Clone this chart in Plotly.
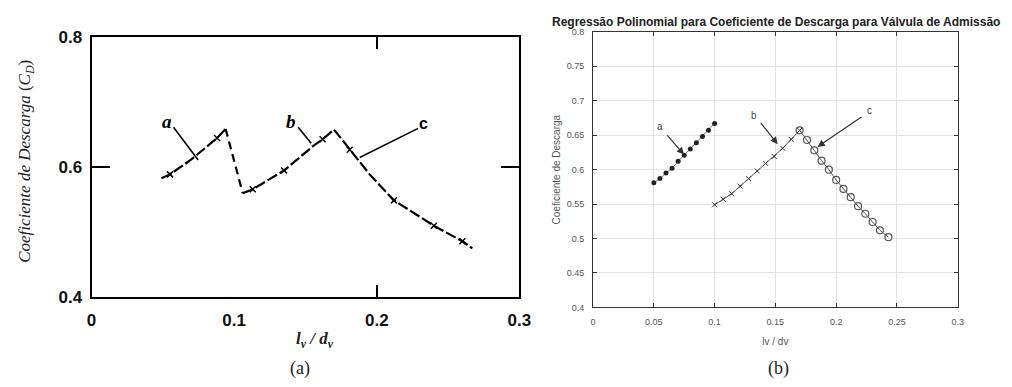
import plotly.graph_objects as go

a_curve_x = [0.049, 0.055, 0.070, 0.088, 0.094]
a_curve_y = [0.583, 0.589, 0.612, 0.645, 0.659]
ab_jump_x = [0.094, 0.106]
ab_jump_y = [0.659, 0.560]
b_curve_x = [0.106, 0.113, 0.135, 0.155, 0.162, 0.170]
b_curve_y = [0.560, 0.566, 0.595, 0.632, 0.643, 0.658]
c_curve_x = [0.170, 0.181, 0.195, 0.212, 0.240, 0.260, 0.267]
c_curve_y = [0.658, 0.627, 0.589, 0.549, 0.510, 0.486, 0.475]
a_marks_x = [0.055, 0.088, 0.113, 0.135, 0.162, 0.181, 0.212, 0.240, 0.260]
a_marks_y = [0.589, 0.645, 0.566, 0.595, 0.643, 0.627, 0.549, 0.510, 0.486]
a_ticks_x = [0, 0.1, 0.2, 0.3]
a_ticks_y = [0.4, 0.6, 0.8]

pa_x = [0.050, 0.055, 0.060, 0.065, 0.070, 0.075, 0.080, 0.085, 0.090, 0.095, 0.100]
pa_y = [0.581, 0.587, 0.595, 0.602, 0.612, 0.621, 0.630, 0.639, 0.648, 0.657, 0.667]
pb_x = [0.100, 0.107, 0.114, 0.121, 0.128, 0.135, 0.142, 0.149, 0.156, 0.163, 0.170]
pb_y = [0.549, 0.557, 0.565, 0.576, 0.587, 0.598, 0.609, 0.619, 0.631, 0.644, 0.657]
pc_x = [0.170, 0.176, 0.182, 0.188, 0.194, 0.200, 0.206, 0.212, 0.218, 0.224, 0.230, 0.236, 0.243]
pc_y = [0.657, 0.643, 0.628, 0.613, 0.600, 0.585, 0.572, 0.560, 0.547, 0.536, 0.524, 0.512, 0.502]
b_ticks_x = [0, 0.05, 0.1, 0.15, 0.2, 0.25, 0.3]
b_ticks_y = [0.4, 0.45, 0.5, 0.55, 0.6, 0.65, 0.7, 0.75, 0.8]

fig = go.Figure()

# Panel (a) traces
for xs, ys, dash in [(a_curve_x, a_curve_y, "11px,3px"), (ab_jump_x, ab_jump_y, "8px,5px"),
                     (b_curve_x, b_curve_y, "11px,3px"), (c_curve_x, c_curve_y, "11px,3px")]:
    fig.add_trace(go.Scatter(x=xs, y=ys, mode="lines", xaxis="x", yaxis="y",
                             line=dict(color="black", width=2.2, dash=dash),
                             showlegend=False, hoverinfo="skip"))
fig.add_trace(go.Scatter(x=a_marks_x, y=a_marks_y, mode="markers", xaxis="x", yaxis="y",
                         marker=dict(symbol="x-thin", size=6, line=dict(color="black", width=1.5)),
                         showlegend=False, hoverinfo="skip"))
# invisible trace so the overlay tick axes of panel (a) are drawn
fig.add_trace(go.Scatter(x=[0.2], y=[0.6], mode="markers", xaxis="x3", yaxis="y3",
                         marker=dict(size=1, opacity=0), showlegend=False, hoverinfo="skip"))

# Panel (b) traces
fig.add_trace(go.Scatter(x=pa_x, y=pa_y, mode="lines+markers", xaxis="x2", yaxis="y2",
                         line=dict(color="#555", width=0.8),
                         marker=dict(symbol="circle", size=5, color="#222"),
                         showlegend=False, hoverinfo="skip"))
fig.add_trace(go.Scatter(x=pb_x, y=pb_y, mode="lines+markers", xaxis="x2", yaxis="y2",
                         line=dict(color="#555", width=1),
                         marker=dict(symbol="x-thin", size=5, line=dict(color="#333", width=1)),
                         showlegend=False, hoverinfo="skip"))
fig.add_trace(go.Scatter(x=pc_x, y=pc_y, mode="lines+markers", xaxis="x2", yaxis="y2",
                         line=dict(color="#555", width=1),
                         marker=dict(symbol="circle-open", size=7, line=dict(color="#444", width=1.2)),
                         showlegend=False, hoverinfo="skip"))

serif = "Liberation Serif"
sans = "Liberation Sans"

fig.update_layout(
    width=1012, height=387,
    margin=dict(l=0, r=0, t=0, b=0),
    paper_bgcolor="white", plot_bgcolor="white",
    xaxis=dict(domain=[0.087, 0.517], range=[0, 0.3], tickvals=a_ticks_x,
               ticktext=["0", "0.1", "0.2", "0.3"], ticks="", showgrid=False, zeroline=False,
               showline=True, linecolor="black", linewidth=2, mirror=True, ticklabelstandoff=6,
               tickfont=dict(family=sans, size=17, color="#111", weight="bold"), anchor="y"),
    yaxis=dict(domain=[0.217, 0.923], range=[0.4, 0.8], tickvals=a_ticks_y,
               ticktext=["0.4", "0.6", "0.8"], ticks="", showgrid=False, zeroline=False,
               showline=True, linecolor="black", linewidth=2, mirror=True, ticklabelstandoff=4,
               tickfont=dict(family=sans, size=17, color="#111", weight="bold"), anchor="x"),
    xaxis3=dict(overlaying="x", anchor="y3", range=[0, 0.3], tickvals=[0.2], ticks="inside",
                ticklen=12, tickwidth=1.5, tickcolor="black", showticklabels=False,
                showgrid=False, zeroline=False, showline=False, mirror="ticks"),
    yaxis3=dict(overlaying="y", anchor="x3", range=[0.4, 0.8], tickvals=[0.6], ticks="inside",
                ticklen=18, tickwidth=1.5, tickcolor="black", showticklabels=False,
                showgrid=False, zeroline=False, showline=False, mirror="ticks"),
    xaxis2=dict(domain=[0.591, 0.9575], range=[0, 0.3], tickvals=b_ticks_x,
                ticktext=["0", "0.05", "0.1", "0.15", "0.2", "0.25", "0.3"],
                ticks="inside", ticklen=4, tickcolor="#333", showgrid=True, gridcolor="#e3e3e3",
                zeroline=False, showline=True, linecolor="#333", linewidth=1, mirror="ticks",
                ticklabelstandoff=6,
                tickfont=dict(family=sans, size=9, color="#555"), anchor="y2",
                title=dict(text="lv / dv", font=dict(family=sans, size=10, color="#555"), standoff=11)),
    yaxis2=dict(domain=[0.189, 0.938], range=[0.4, 0.8], tickvals=b_ticks_y,
                ticktext=["0.4", "0.45", "0.5", "0.55", "0.6", "0.65", "0.7", "0.75", "0.8"],
                ticks="inside", ticklen=4, tickcolor="#333", showgrid=True, gridcolor="#e3e3e3",
                zeroline=False, showline=True, linecolor="#333", linewidth=1, mirror="ticks",
                ticklabelstandoff=6,
                tickfont=dict(family=sans, size=9, color="#555"), anchor="x2",
                title=dict(text="Coeficiente de Descarga", font=dict(family=sans, size=10, color="#555"), standoff=4)),
)

ann = []
# Panel (a) text
ann.append(dict(xref="paper", yref="paper", x=22 / 1012, y=1 - 160 / 387, textangle=-90,
                xanchor="center", yanchor="middle",
                text="<i>Coeficiente de Descarga</i> (<i>C<sub>D</sub></i>)", showarrow=False,
                font=dict(family=serif, size=17, color="#222")))
ann.append(dict(xref="paper", yref="paper", x=315 / 1012, y=1 - 348 / 387,
                xanchor="center", yanchor="middle",
                text="<b><i>l<sub>v</sub> / d<sub>v</sub></i></b>", showarrow=False,
                font=dict(family=serif, size=17, color="#222")))
ann.append(dict(xref="paper", yref="paper", x=300 / 1012, y=1 - 378 / 387, text="(a)",
                xanchor="center", yanchor="middle",
                showarrow=False, font=dict(family=serif, size=18, color="#222")))
# leaders (a)
for lbl, tx, ty, hx, hy in [("a", 0.0527, 0.670, 0.0747, 0.611),
                            ("b", 0.140, 0.670, 0.154, 0.637),
                            ("c", 0.233, 0.667, 0.188, 0.615)]:
    ann.append(dict(xref="x", yref="y", x=hx, y=hy, axref="x", ayref="y",
                    ax=tx + (0.004 if lbl != "c" else -0.003), ay=ty - 0.006, text="",
                    showarrow=True, arrowhead=0, arrowwidth=1.6, arrowcolor="black"))
    ann.append(dict(xref="x", yref="y", x=tx, y=ty, xanchor="center", yanchor="middle",
                    text="<b><i>%s</i></b>" % lbl if lbl != "c" else "<b>c</b>",
                    showarrow=False, font=dict(family=serif if lbl != "c" else sans,
                                               size=19 if lbl != "c" else 16, color="black")))

# Panel (b) text
ann.append(dict(xref="paper", yref="paper", x=784 / 1012, y=1 - 14 / 387,
                xanchor="center", yanchor="middle",
                text="<b>Regressão Polinomial para Coeficiente de Descarga para Válvula de Admissão</b>",
                showarrow=False, font=dict(family=sans, size=12, color="#222")))
ann.append(dict(xref="paper", yref="paper", x=787 / 1012, y=1 - 378 / 387, text="(b)",
                xanchor="center", yanchor="middle",
                showarrow=False, font=dict(family=serif, size=18, color="#222")))
for lbl, tx, ty, hx, hy, sx, sy in [("a", 0.0549, 0.662, 0.0748, 0.622, 0.060, 0.652),
                                    ("b", 0.1324, 0.679, 0.1519, 0.637, 0.137, 0.670),
                                    ("c", 0.2277, 0.686, 0.1847, 0.633, 0.222, 0.678)]:
    ann.append(dict(xref="x2", yref="y2", x=hx, y=hy, axref="x2", ayref="y2", ax=sx, ay=sy,
                    text="", showarrow=True, arrowhead=2, arrowsize=1.2, arrowwidth=1.2,
                    arrowcolor="#333"))
    ann.append(dict(xref="x2", yref="y2", x=tx, y=ty, text=lbl, showarrow=False,
                    xanchor="center", yanchor="middle",
                    font=dict(family=sans, size=10, color="#444")))

fig.update_layout(annotations=ann)
fig.write_html("out.html")
